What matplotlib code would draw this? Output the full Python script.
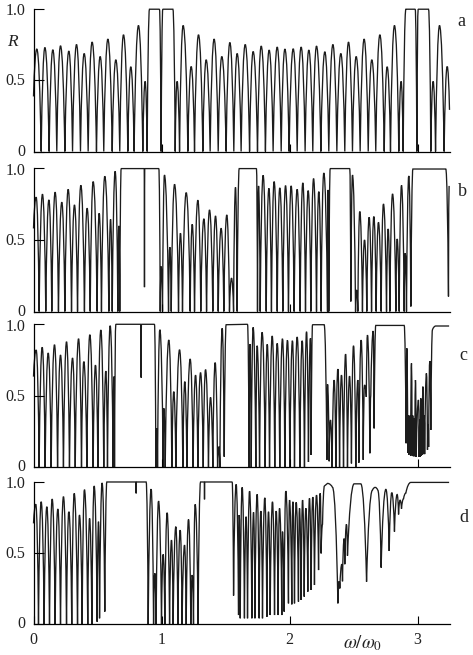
import matplotlib
matplotlib.use('Agg')
import matplotlib.pyplot as plt
from matplotlib.path import Path
from matplotlib.patches import PathPatch

plt.rcParams['font.family'] = ['Liberation Serif', 'DejaVu Serif']
plt.rcParams['mathtext.fontset'] = 'stix'

# turning points of R(w/w0), minima and maxima in turn
x_a = [0.0, .026, .060, .089, .122, .151, .182, .211, .245, .276,
       .305, .336, .367, .396, .427, .458, .492, .521, .549, .581,
       .615, .643, .674, .703, .737, .760, .786, .820, .854, .872,
       .888, .906, .984, .997, 1.010, 1.089, 1.107, 1.122, 1.141, 1.169,
       1.206, 1.232, 1.258, 1.289, 1.323, 1.349, 1.380, 1.411, 1.443, 1.471,
       1.505, 1.534, 1.565, 1.591, 1.622, 1.654, 1.688, 1.716, 1.750, 1.779,
       1.812, 1.841, 1.872, 1.904, 1.935, 1.964, 1.997, 2.029, 2.060, 2.091,
       2.122, 2.151, 2.182, 2.211, 2.245, 2.276, 2.307, 2.339, 2.370, 2.401,
       2.432, 2.461, 2.492, 2.521, 2.552, 2.583, 2.615, 2.643, 2.674, 2.706,
       2.740, 2.763, 2.789, 2.820, 2.854, 2.872, 2.888, 2.909, 2.982, 2.995,
       3.005, 3.086, 3.104, 3.122, 3.141, 3.172, 3.208, 3.232, 3.250]
R_a = [.385, .716, 0, .727, 0, .711, 0, .739, 0, .702,
       0, .748, 0, .685, 0, .765, 0, .664, 0, .786,
       0, .641, 0, .816, 0, .592, 0, .881, 0, .49,
       0, .995, .995, 0, .995, .995, 0, .49, 0, .881,
       0, .594, 0, .816, 0, .641, 0, .786, 0, .664,
       0, .762, 0, .685, 0, .748, 0, .699, 0, .737,
       0, .709, 0, .730, 0, .716, 0, .718, 0, .730,
       0, .709, 0, .737, 0, .697, 0, .748, 0, .685,
       0, .765, 0, .664, 0, .786, 0, .641, 0, .816,
       0, .592, 0, .881, 0, .49, 0, .995, .995, 0,
       .995, .995, 0, .49, 0, .881, 0, .594, .291]

x_b = [0.0, .021, .044, .070, .096, .120, .143, .169, .195, .221,
       .245, .271, .297, .320, .344, .370, .398, .419, .443, .466,
       .497, .513, .531, .557, .589, .602, .615, .638, .659, .667,
       .674, .685, .865, .867, .869, .979, .990, .997, 1.008, 1.023,
       1.055, 1.065, 1.076, 1.102, 1.133, 1.148, 1.164, 1.193, 1.224, 1.240,
       1.258, 1.284, 1.307, 1.331, 1.352, 1.375, 1.401, 1.422, 1.443, 1.466,
       1.487, 1.510, 1.531, 1.547, 1.563, 1.578, 1.591, 1.607, 1.742, 1.750,
       1.758, 1.771, 1.794, 1.818, 1.839, 1.859, 1.880, 1.904, 1.924, 1.948,
       1.969, 1.992, 2.013, 2.036, 2.060, 2.083, 2.104, 2.125, 2.146, 2.167,
       2.188, 2.211, 2.229, 2.247, 2.268, 2.297, 2.302, 2.307, 2.318, 2.471,
       2.479, 2.492, 2.516, 2.523, 2.534, 2.549, 2.570, 2.586, 2.604, 2.622,
       2.641, 2.659, 2.677, 2.695, 2.716, 2.734, 2.758, 2.771, 2.784, 2.805,
       2.831, 2.841, 2.857, 2.875, 2.896, 2.904, 2.914, 2.932, 2.948, 2.964,
       3.221, 3.242, 3.247]
R_b = [.58, .798, 0, .819, 0, .779, 0, .833, 0, .763,
       0, .853, 0, .744, 0, .881, 0, .721, 0, .907,
       0, .686, 0, .944, 0, .644, 0, .979, 0, .598,
       0, .998, .998, .17, .998, .998, 0, .314, 0, .953,
       0, .449, 0, .888, 0, .547, 0, .83, 0, .609,
       0, .777, 0, .647, 0, .709, 0, .667, 0, .581,
       0, .674, 0, .233, 0, .867, 0, .998, .998, 0,
       .877, 0, .951, 0, .86, 0, .907, 0, .863, 0,
       .879, 0, .877, 0, .853, 0, .898, 0, .844, 0,
       .928, 0, .837, 0, .967, 0, .849, 0, .998, .998,
       .07, .953, 0, .15, 0, .698, 0, .5, 0, .658,
       0, .663, 0, .623, 0, .751, 0, .577, 0, .821,
       0, .507, 0, .881, 0, .407, 0, .947, .035, .995,
       .995, .105, .877]

x_c = [0.0, .021, .044, .068, .091, .115, .138, .164, .188, .211,
       .234, .258, .281, .305, .326, .352, .375, .393, .417, .440,
       .466, .484, .503, .526, .549, .565, .578, .599, .622, .628,
       .633, .643, .839, .841, .843, .945, .956, .964, .969, .987,
       1.013, 1.018, 1.029, 1.057, 1.081, 1.096, 1.112, 1.141, 1.167, 1.182,
       1.198, 1.224, 1.247, 1.266, 1.284, 1.305, 1.326, 1.344, 1.367, 1.383,
       1.401, 1.419, 1.438, 1.448, 1.456, 1.474, 1.490, 1.505, 1.672, 1.685,
       1.691, 1.701, 1.716, 1.737, 1.747, 1.766, 1.786, 1.810, 1.826, 1.844,
       1.865, 1.885, 1.904, 1.924, 1.945, 1.964, 1.984, 2.003, 2.023, 2.039,
       2.060, 2.081, 2.099, 2.117, 2.133, 2.148, 2.164, 2.169, 2.180, 2.271,
       2.292, 2.297, 2.310, 2.320, 2.333, 2.349, 2.362, 2.378, 2.391, 2.406,
       2.422, 2.438, 2.453, 2.469, 2.484, 2.500, 2.518, 2.534, 2.542, 2.560,
       2.576, 2.586, 2.600, 2.609, 2.628, 2.635, 2.654, 2.661, 2.674, 2.896,
       2.911, 2.917, 2.924, 2.928, 2.932, 2.942, 2.946, 2.953, 2.958, 2.963,
       2.968, 2.975, 2.979, 2.984, 2.990, 3.008, 3.013, 3.018, 3.022, 3.026,
       3.030, 3.034, 3.037, 3.042, 3.046, 3.052, 3.056, 3.070, 3.078, 3.083,
       3.087, 3.096, 3.104, 3.117, 3.143, 3.247]
R_c = [.632, .818, 0, .837, 0, .797, 0, .855, 0, .783,
       0, .876, 0, .762, 0, .897, 0, .737, 0, .925,
       0, .713, 0, .958, 0, .671, 0, .988, 0, .632,
       0, .998, .998, .625, .998, .998, 0, .27, 0, .96,
       0, .41, 0, .888, 0, .527, 0, .82, 0, .597,
       0, .755, 0, .643, 0, .66, 0, .681, 0, .487,
       0, .73, 0, .142, 0, .97, .072, .995, .998, 0,
       .86, 0, .977, 0, .848, 0, .942, 0, .858, 0,
       .916, 0, .865, 0, .897, 0, .886, 0, .883, 0,
       .909, 0, .883, 0, .946, .035, .9, .084, .995, .995,
       .05, .578, .04, .329, 0, .608, 0, .685, 0, .643,
       0, .79, 0, .636, .025, .848, 0, .608, .03, .888,
       .05, .573, .49, .923, .096, .5, .951, .27, .99, .99,
       .166, .83, .10, .36, .085, .36, .08, .725, .08, .36,
       .075, .34, .075, .608, .07, .469, .07, .33, .07, .48,
       .08, .33, .085, .562, .09, .36, .09, .655, .12, .30,
       .14, .741, .259, .96, .986, .986]

x_d = [0.0, .018, .039, .060, .083, .104, .125, .146, .169, .190,
       .211, .234, .258, .276, .299, .318, .344, .359, .380, .398,
       .424, .438, .456, .474, .497, .508, .516, .536, .557, .573,
       .800, .802, .804, .880, .896, .919, .938, .948, .958, .977,
       1.0, 1.013, 1.026, 1.044, 1.063, 1.078, 1.091, 1.112, 1.128, 1.146,
       1.161, 1.180, 1.193, 1.211, 1.229, 1.240, 1.250, 1.263, 1.286, 1.305,
       1.334, 1.336, 1.338, 1.552, 1.563, 1.583, 1.602, 1.607, 1.615, 1.630,
       1.648, 1.661, 1.672, 1.688, 1.706, 1.719, 1.730, 1.747, 1.763, 1.776,
       1.789, 1.807, 1.823, 1.836, 1.849, 1.867, 1.883, 1.896, 1.911, 1.922,
       1.940, 1.945, 1.958, 1.971, 1.992, 2.0, 2.018, 2.026, 2.039, 2.052,
       2.070, 2.078, 2.091, 2.102, 2.115, 2.128, 2.143, 2.156, 2.169, 2.182,
       2.195, 2.211, 2.227, 2.240, 2.247, 2.258, 2.273, 2.297, 2.336, 2.378,
       2.388, 2.393, 2.409, 2.414, 2.427, 2.432, 2.445, 2.453, 2.505, 2.557,
       2.602, 2.648, 2.669, 2.690, 2.716, 2.753, 2.779, 2.799, 2.820, 2.841,
       2.852, 2.864, 2.875, 2.891, 2.909, 2.948, 3.247]
R_d = [.707, .841, 0, .859, 0, .824, 0, .878, 0, .808,
       0, .895, 0, .789, 0, .918, 0, .766, 0, .944,
       0, .742, 0, .97, .016, .719, .04, .991, .087, .998,
       .998, .918, .998, .998, 0, .948, 0, .356, 0, .864,
       0, .489, 0, .782, 0, .59, 0, .684, 0, .66,
       0, .555, 0, .735, 0, .344, 0, .841, 0, .998,
       .998, .876, .998, .998, .2, .981, .063, .766, .04, .96,
       .04, .754, .04, .934, .04, .785, .04, .911, .04, .794,
       .04, .887, .05, .789, .063, .859, .063, .794, .063, .813,
       .063, .649, .087, .934, .145, .871, .138, .859, .145, .855,
       .157, .813, .169, .871, .192, .813, .227, .883, .239, .892,
       .274, .906, .379, .918, .496, .70, .97, .988, .96, .145,
       .30, .25, .42, .30, .60, .42, .70, .48, .985, .985,
       .297, .94, .96, .94, .396, .946, .513, .923, .649, .91,
       .77, .87, .81, .88, .92, .995, .995]

panel_labels = ['a', 'b', 'c', 'd']
xticks = [[1, 2, 3], [1, 2], [1, 2, 3], [0, 1, 2, 3]]
yticks = [0, 0.5, 1.0]
ytick_labels = ['0', '0.5', '1.0']
ytick_drop = [0, 1, 2]  # the labels sit a little under their ticks, in points


def make_path(x, r):
    verts = [(x[0], r[0])]
    codes = [Path.MOVETO]
    for i in range(len(x) - 1):
        x0, y0, x1, y1 = x[i], r[i], x[i + 1], r[i + 1]
        dx = x1 - x0
        dy = y1 - y0
        if abs(dy) < 0.02:
            verts.append((x1, y1))
            codes.append(Path.LINETO)
        elif dy > 0:
            # sharp at the bottom, round at the top
            verts += [(x0 + .25 * dx, y0 + .6 * dy), (x0 + .6 * dx, y1), (x1, y1)]
            codes += [Path.CURVE4] * 3
        else:
            verts += [(x0 + .4 * dx, y0), (x0 + .75 * dx, y1 - .6 * dy), (x1, y1)]
            codes += [Path.CURVE4] * 3
    return Path(verts, codes)


W, H = 473, 655
fig = plt.figure(figsize=(W / 100, H / 100), dpi=100)

tops = [8.5, 168.3, 324, 481.7]
bottoms = [151.5, 311.5, 467, 624]
label_y = [22, 192, 355, 518]
label_x = [461, 462, 463, 464]
curves = [(x_a, R_a), (x_b, R_b), (x_c, R_c), (x_d, R_d)]

for i in range(4):
    ax = fig.add_axes([33.5 / W, 1 - bottoms[i] / H, 416 / W, (bottoms[i] - tops[i]) / H])
    ax.set_xlim(0, 3.25)
    ax.set_ylim(0, 1)
    ax.spines['top'].set_visible(False)
    ax.spines['right'].set_visible(False)
    ax.spines['left'].set_linewidth(0.9)
    ax.spines['bottom'].set_linewidth(0.9)
    ax.set_xticks(xticks[i])
    ax.set_yticks(yticks)
    ax.tick_params(axis='y', direction='in', length=7.5, width=0.8, labelleft=False)
    ax.tick_params(axis='x', direction='in', length=5.5, width=0.8, pad=6, labelsize=11.5,
                   labelcolor='#222222', labelbottom=(i == 3))
    for val, lab, drop in zip(yticks, ytick_labels, ytick_drop):
        ax.annotate(lab, (0, val), xycoords=('axes fraction', 'data'), xytext=(-6, -drop),
                    textcoords='offset points', ha='right', va='center', fontsize=11.5,
                    color='#222222')
    ax.add_patch(PathPatch(make_path(curves[i][0], curves[i][1]), fill=False,
                           edgecolor='#1c1c1c', linewidth=0.95, clip_on=False))
    fig.text(label_x[i] / W, 1 - label_y[i] / H, panel_labels[i], fontsize=13,
             ha='center', va='center', color='#222222')

fig.text(12 / W, 1 - 42 / H, 'R', fontsize=12.5, style='italic', ha='center', va='center', color='#222222')
fig.text(363 / W, 1 - 643 / H, r'$\omega/\omega_0$', fontsize=13.5, ha='center', va='center', color='#222222')

fig.savefig('out.png', dpi=100)
